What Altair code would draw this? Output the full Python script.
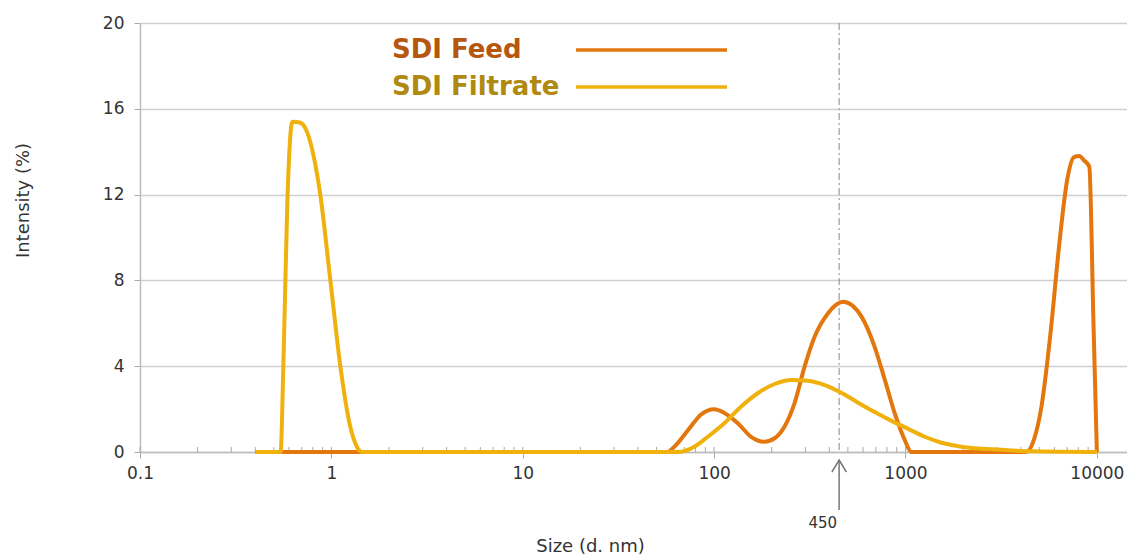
import altair as alt
import pandas as pd

# ---- data ----
feed_size = [0.4, 10, 57, 62, 72.8, 85.5, 100, 113, 133, 156, 183, 207, 233, 263, 297, 335,
             394, 472, 590, 690, 780, 879, 991, 1074, 4270, 4700, 5130, 5750, 6340, 7000,
             7600, 8100, 8560, 9130, 9600, 10000]
feed_int = [0, 0, 0, 0.25, 1.0, 1.75, 1.99, 1.82, 1.34, 0.71, 0.48, 0.64, 1.18, 2.27, 3.98, 5.37,
            6.47, 7.0, 6.3, 4.9, 3.36, 1.8, 0.56, 0, 0, 0.6, 2.1, 5.7, 9.56, 12.7,
            13.75, 13.8, 13.6, 13.3, 6.0, 0]

filt_size = [0.4, 0.543, 0.561, 0.589, 0.625, 0.689, 0.731, 0.875, 0.988, 1.114, 1.256, 1.35,
             1.45, 10, 64.6, 78.9, 92.7, 113, 138, 169, 207, 253, 309, 378, 462, 565, 690,
             845, 1033, 1262, 1542, 1887, 3184, 4500, 10000]
filt_int = [0, 0, 4.0, 11.7, 15.4, 15.35, 15.1, 12.0, 8.0, 4.0, 1.17, 0.3,
            0, 0, 0, 0.25, 0.71, 1.34, 2.11, 2.74, 3.17, 3.36, 3.32, 3.12, 2.76, 2.3, 1.86,
            1.45, 1.08, 0.71, 0.43, 0.27, 0.1, 0.03, 0]

series = ["SDI Feed", "SDI Filtrate"]
line_colors = ["#E3760C", "#F0B10C"]
text_colors = ["#B5570F", "#B08A10"]

x_ticks = [0.1, 1, 10, 100, 1000, 10000]
y_ticks = [0, 4, 8, 12, 16, 20]
minor_ticks = [m * d for d in [0.1, 1, 10, 100, 1000] for m in range(1, 10)] + [10000]
marker_size = 450

W, H = 987, 429

df = pd.concat([
    pd.DataFrame({"size": feed_size, "intensity": feed_int, "series": series[0], "o": 0}),
    pd.DataFrame({"size": filt_size, "intensity": filt_int, "series": series[1], "o": 1}),
])

xscale = alt.Scale(type="log", domain=[0.1, 14370], nice=False)
yscale = alt.Scale(domain=[0, 20], nice=False)

xaxis = alt.Axis(values=x_ticks, format="~g", title="Size (d. nm)", grid=False,
                 labelFont="DejaVu Sans", labelFontSize=17, labelColor="#333",
                 labelFlush=False, labelPadding=7, tickSize=6, tickColor="#aaa",
                 domainColor="#bbb", domainWidth=1.5, titleFont="DejaVu Sans",
                 titleFontSize=18, titleFontWeight="normal", titleColor="#333",
                 titleX=450, titleY=94, titleBaseline="middle", titleAnchor="middle")
yaxis = alt.Axis(values=y_ticks, title="Intensity (%)", grid=True, gridColor="#cfcfcf",
                 gridWidth=1.5, labelFont="DejaVu Sans", labelFontSize=17,
                 labelColor="#333", labelFlush=False, labelPadding=10, tickSize=6,
                 tickColor="#aaa", domainColor="#bbb", domainWidth=1.5,
                 titleFont="DejaVu Sans", titleFontSize=18, titleFontWeight="normal",
                 titleColor="#333", titleX=-117, titleY=177, titleBaseline="middle",
                 titleAlign="center")

lines = alt.Chart(df).mark_line(strokeWidth=4, interpolate="monotone").encode(
    x=alt.X("size:Q", scale=xscale, axis=xaxis),
    y=alt.Y("intensity:Q", scale=yscale, axis=yaxis),
    color=alt.Color("series:N", scale=alt.Scale(domain=series, range=line_colors), legend=None),
    detail="series:N",
    order="o:Q",
)

minor = alt.Chart(pd.DataFrame({"t": minor_ticks})).mark_rule(color="#aaa", strokeWidth=1).encode(
    x=alt.X("t:Q", scale=xscale), y=alt.value(H - 5), y2=alt.value(H))

mk = pd.DataFrame({"m": [marker_size], "lab": [str(marker_size)]})
vline = alt.Chart(mk).mark_rule(color="#888", strokeWidth=1, strokeDash=[7, 3, 2, 3]).encode(
    x=alt.X("m:Q", scale=xscale), y=alt.value(0), y2=alt.value(H))
arrow_shaft = alt.Chart(mk).mark_rule(color="#777", strokeWidth=1.5).encode(
    x=alt.X("m:Q", scale=xscale), y=alt.value(H + 8), y2=alt.value(H + 58))
arrow_head = alt.Chart(mk).mark_point(shape="M-0.6,1L0,0L0.6,1", size=576, filled=False,
                                      color="#777", strokeWidth=1.5, opacity=1).encode(
    x=alt.X("m:Q", scale=xscale), y=alt.value(H + 8))
arrow_label = alt.Chart(mk).mark_text(align="right", baseline="middle", dx=-2,
                                      font="DejaVu Sans", fontSize=15, color="#333").encode(
    x=alt.X("m:Q", scale=xscale), y=alt.value(H + 71), text="lab:N")

leg = pd.DataFrame({"series": series, "c": line_colors, "tc": text_colors,
                    "ty": [35, 72], "ly": [27, 64]})
leg_text = alt.Chart(leg).mark_text(align="left", baseline="alphabetic", font="DejaVu Sans",
                                    fontSize=26, fontWeight="bold").encode(
    x=alt.value(252), y=alt.Y("ty:Q", scale=None), text="series:N",
    color=alt.Color("tc:N", scale=None))
leg_line = alt.Chart(leg).mark_rule(strokeWidth=3.5).encode(
    x=alt.value(436), x2=alt.value(587), y=alt.Y("ly:Q", scale=None),
    color=alt.Color("c:N", scale=None))

chart = alt.layer(vline, minor, lines, arrow_shaft, arrow_head, arrow_label, leg_line, leg_text).properties(
    width=W, height=H,
    padding={"left": 140, "top": 23, "right": 0, "bottom": 103},
    autosize=alt.AutoSizeParams(type="none"),
).configure_view(stroke=None).configure(background="white")

chart.save("out.html", embed_options={"renderer": "svg", "actions": False})
